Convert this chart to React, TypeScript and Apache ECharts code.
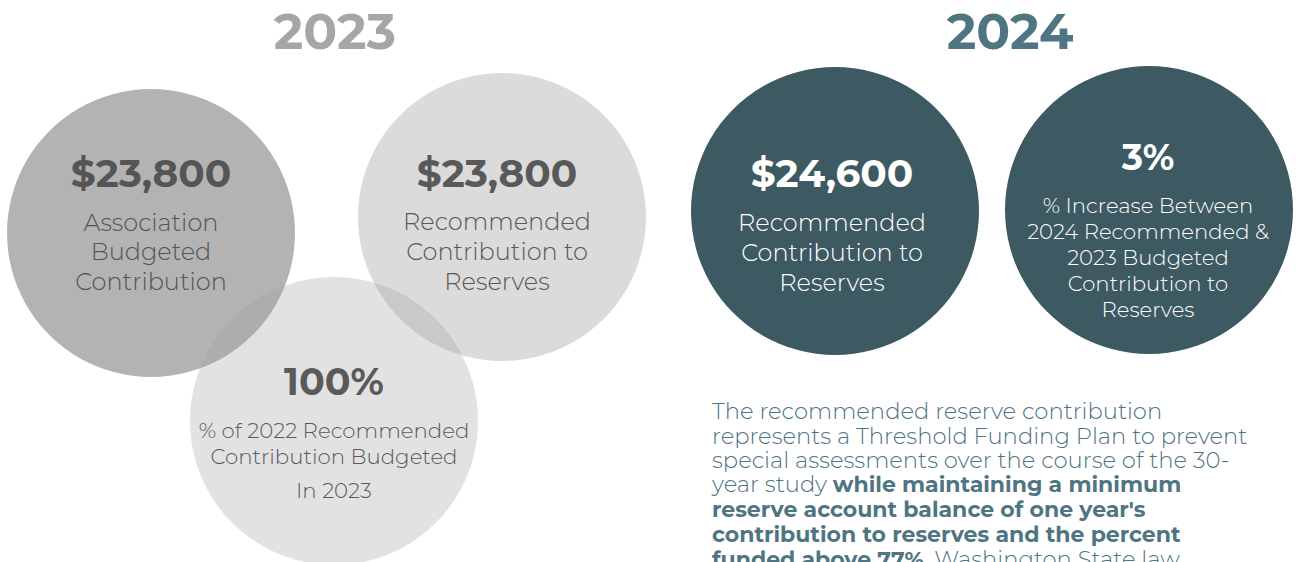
import React, { useEffect, useRef } from "react";
import * as echarts from "echarts";

const years = ["2023", "2024"];
const yearCenters = [335, 1010];

const circleCenters = [
  [151, 233],
  [502, 217],
  [334, 421],
  [835, 211],
  [1149, 210],
];
const circleRadius = 144;

const headlineValues = ["$23,800", "$23,800", "100%", "$24,600", "3%"];
const descriptionLines = [
  ["Association", "Budgeted", "Contribution"],
  ["Recommended", "Contribution to", "Reserves"],
  ["% of 2022 Recommended", "Contribution Budgeted", "In 2023"],
  ["Recommended", "Contribution to", "Reserves"],
  ["% Increase Between", "2024 Recommended &", "2023 Budgeted", "Contribution to", "Reserves"],
];

const paragraphLines: [string, string, string][] = [
  ["The recommended reserve contribution", "", ""],
  ["represents a Threshold Funding Plan to prevent", "", ""],
  ["special assessments over the course of the 30-", "", ""],
  ["year study ", "while maintaining a minimum", ""],
  ["", "reserve account balance of one year's", ""],
  ["", "contribution to reserves and the percent", ""],
  ["", "funded above 77%", ". Washington State law"],
];

const FONT = "'Montserrat', 'Open Sans', 'DejaVu Sans', sans-serif";

export default function App() {
  const ref = useRef<HTMLDivElement>(null);

  useEffect(() => {
    document.body.style.margin = "0";
    if (!ref.current) return;
    const chart = echarts.init(ref.current, undefined, { renderer: "svg" });

    const fills = [
      "rgba(150,150,150,0.72)",
      "rgba(190,190,190,0.55)",
      "rgba(160,160,160,0.3)",
      "#3d5962",
      "#3d5962",
    ];
    const textColors = ["#555555", "#595959", "#5a5a5a", "#ffffff", "#ffffff"];

    const headY = [173, 173, 381, 173, 157];
    const descY = [
      [222, 251, 281],
      [221, 251, 281],
      [430, 456, 490],
      [222, 252, 282],
      [205, 231, 257, 283, 309],
    ];
    const headSize = [39, 39, 38, 39, 36];
    const descSize = [24, 24, 21.3, 24, 21.2];
    const textCx = [151, 497, 334, 832, 1148];

    const elements: any[] = [];

    years.forEach((y, i) => {
      elements.push({
        type: "text",
        style: {
          text: y,
          x: yearCenters[i],
          y: 31,
          align: "center",
          verticalAlign: "middle",
          font: `bold 50px ${FONT}`,
          fill: i === 0 ? "#a6a6a6" : "#4f7582",
        },
      });
    });

    circleCenters.forEach((c, i) => {
      elements.push({
        type: "circle",
        shape: { cx: c[0], cy: c[1], r: circleRadius },
        style: { fill: fills[i] },
      });
    });

    headlineValues.forEach((v, i) => {
      elements.push({
        type: "text",
        style: {
          text: v,
          x: textCx[i],
          y: headY[i],
          align: "center",
          verticalAlign: "middle",
          font: `bold ${headSize[i]}px ${FONT}`,
          fill: textColors[i],
        },
      });
      descriptionLines[i].forEach((line, j) => {
        elements.push({
          type: "text",
          style: {
            text: line,
            x: textCx[i],
            y: descY[i][j],
            align: "center",
            verticalAlign: "middle",
            font: `300 ${descSize[i]}px ${FONT}`,
            fill: textColors[i],
          },
        });
      });
    });

    const paraY = [411, 436, 460, 484, 509, 534, 559];
    paragraphLines.forEach((parts, i) => {
      const txt =
        (parts[0] ? `{n|${parts[0]}}` : "") +
        (parts[1] ? `{b|${parts[1]}}` : "") +
        (parts[2] ? `{n|${parts[2]}}` : "");
      elements.push({
        type: "text",
        style: {
          text: txt,
          x: 712,
          y: paraY[i],
          align: "left",
          verticalAlign: "middle",
          rich: {
            n: { font: `300 22.7px ${FONT}`, fill: "#4f7582", lineHeight: 22 },
            b: { font: `bold 22px ${FONT}`, fill: "#4f7582", lineHeight: 22 },
          },
        },
      });
    });

    chart.setOption({
      animation: false,
      backgroundColor: "#ffffff",
      graphic: { elements },
    });

    return () => chart.dispose();
  }, []);

  return <div ref={ref} style={{ width: 1296, height: 562 }} />;
}
